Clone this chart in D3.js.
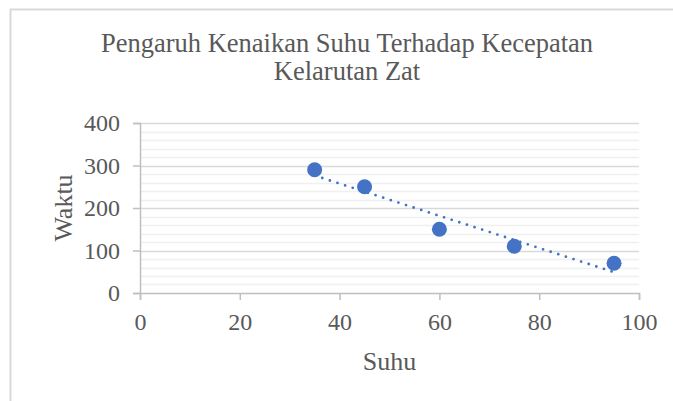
<!DOCTYPE html>
<html>
<head>
<meta charset="utf-8">
<script src="https://cdn.jsdelivr.net/npm/d3@7"></script>
<style>
  body { margin: 0; background: #fff; }
  text { font-family: "Liberation Serif", "Times New Roman", serif; fill: #595959; }
</style>
</head>
<body>
<div id="chart"></div>
<script>
// chart data
var suhu = [35, 45, 60, 75, 95];
var waktu = [290, 250, 150, 110, 70];
var xTicks = [0, 20, 40, 60, 80, 100];
var yTicks = [0, 100, 200, 300, 400];
var titleLines = ["Pengaruh Kenaikan Suhu Terhadap Kecepatan", "Kelarutan Zat"];

var W = 673, H = 401;
var plot = {left: 140, right: 639, top: 123, bottom: 293};

var svg = d3.select("#chart").append("svg")
    .attr("width", W).attr("height", H);

// outer chart frame
svg.append("rect")
    .attr("x", 10.5).attr("y", 9.5)
    .attr("width", W + 20).attr("height", H + 20)
    .attr("fill", "#fff")
    .attr("stroke", "#d9d9d9")
    .attr("stroke-width", 2);

var x = d3.scaleLinear().domain([0, 100]).range([plot.left, plot.right]);
var y = d3.scaleLinear().domain([0, 400]).range([plot.bottom, plot.top]);

// minor gridlines every 20
svg.append("g").selectAll("line")
    .data(d3.range(20, 400, 20).filter(function(v) { return v % 100 !== 0; }))
    .enter().append("line")
    .attr("x1", plot.left).attr("x2", plot.right)
    .attr("y1", function(d) { return Math.round(y(d)) + 0.5; })
    .attr("y2", function(d) { return Math.round(y(d)) + 0.5; })
    .attr("stroke", "#f0f0f0").attr("stroke-width", 1.5);

// major gridlines
svg.append("g").selectAll("line")
    .data(yTicks.slice(1))
    .enter().append("line")
    .attr("x1", plot.left).attr("x2", plot.right)
    .attr("y1", function(d) { return Math.round(y(d)) + 0.5; })
    .attr("y2", function(d) { return Math.round(y(d)) + 0.5; })
    .attr("stroke", "#d9d9d9").attr("stroke-width", 1.5);

// y axis
var yAxis = svg.append("g")
    .attr("transform", "translate(" + plot.left + ",0)")
    .call(d3.axisLeft(y).tickValues(yTicks).tickSize(7).tickPadding(13));
yAxis.selectAll("line, path").attr("stroke", "#bfbfbf").attr("stroke-width", 1.5);
yAxis.selectAll("text").style("font-size", "24px").style("font-family", "Liberation Serif").attr("fill", "#595959");

// x axis
var xAxis = svg.append("g")
    .attr("transform", "translate(0," + plot.bottom + ")")
    .call(d3.axisBottom(x).tickValues(xTicks).tickSize(7).tickPadding(13));
xAxis.selectAll("line, path").attr("stroke", "#bfbfbf").attr("stroke-width", 1.5);
xAxis.selectAll("text").style("font-size", "24px").style("font-family", "Liberation Serif").attr("fill", "#595959");

// linear trendline (least squares)
var mx = d3.mean(suhu), my = d3.mean(waktu);
var sxy = d3.sum(suhu, function(v, i) { return (v - mx) * (waktu[i] - my); });
var sxx = d3.sum(suhu, function(v) { return (v - mx) * (v - mx); });
var slope = sxy / sxx, icpt = my - slope * mx;
var x0 = d3.min(suhu), x1 = d3.max(suhu);
svg.append("line")
    .attr("x1", x(x0)).attr("y1", y(icpt + slope * x0))
    .attr("x2", x(x1)).attr("y2", y(icpt + slope * x1))
    .attr("stroke", "#4472c4").attr("stroke-width", 2.8)
    .attr("stroke-linecap", "round")
    .attr("stroke-dasharray", "0 8");

// markers
svg.append("g").selectAll("circle")
    .data(suhu).enter().append("circle")
    .attr("cx", function(d) { return x(d); })
    .attr("cy", function(d, i) { return y(waktu[i]); })
    .attr("r", 7.5)
    .attr("fill", "#4472c4");

// title
svg.append("text")
    .attr("text-anchor", "middle")
    .style("font-size", "26.5px")
    .selectAll("tspan").data(titleLines).enter().append("tspan")
    .attr("x", 347)
    .attr("y", function(d, i) { return 52 + i * 28; })
    .text(function(d) { return d; });

// axis titles
svg.append("text")
    .attr("x", (plot.left + plot.right) / 2).attr("y", 370)
    .attr("text-anchor", "middle")
    .style("font-size", "26px")
    .text("Suhu");

svg.append("text")
    .attr("transform", "translate(72," + ((plot.top + plot.bottom) / 2) + ") rotate(-90)")
    .attr("text-anchor", "middle")
    .style("font-size", "26px")
    .text("Waktu");
</script>
</body>
</html>
